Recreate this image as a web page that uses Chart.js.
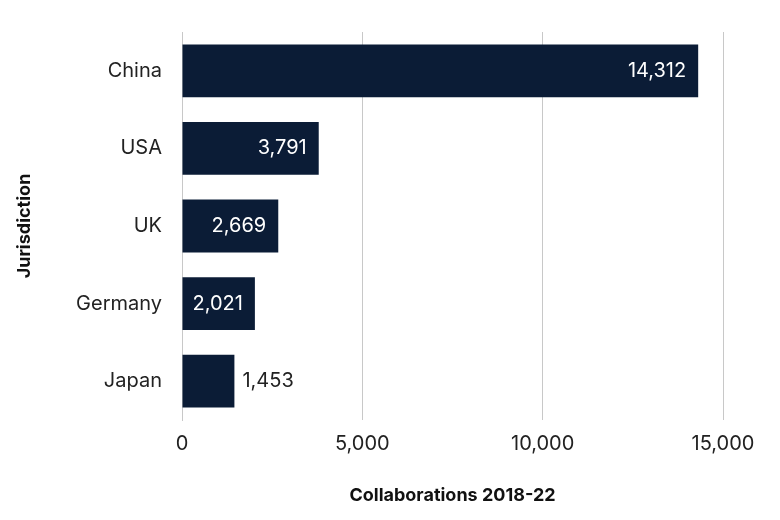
<!DOCTYPE html>
<html>
<head>
<meta charset="utf-8">
<script src="https://cdn.jsdelivr.net/npm/chart.js@4"></script>
<style>
  body { margin: 0; background: #fff; }
  #wrap { width: 780px; height: 520px; }
</style>
</head>
<body>
<div id="wrap"><canvas id="chart"></canvas></div>
<script>
const countries = ["China", "USA", "UK", "Germany", "Japan"];
const collaborations = [14312, 3791, 2669, 2021, 1453];
const xTicks = [0, 5000, 10000, 15000];

const barColor = "#0b1c36";

// value labels: inside bar end if it fits, otherwise just outside
const valueLabels = {
  id: "valueLabels",
  afterDatasetsDraw(chart) {
    const ctx = chart.ctx;
    const meta = chart.getDatasetMeta(0);
    ctx.save();
    ctx.font = "20px Inter, 'Open Sans', sans-serif";
    ctx.textBaseline = "middle";
    meta.data.forEach((bar, i) => {
      const text = collaborations[i].toLocaleString("en-US");
      const w = ctx.measureText(text).width;
      const barW = bar.x - bar.base;
      if (barW > w + 20) {
        ctx.fillStyle = "#ffffff";
        ctx.textAlign = "right";
        ctx.fillText(text, bar.x - 12, bar.y);
      } else {
        ctx.fillStyle = "#222222";
        ctx.textAlign = "left";
        ctx.fillText(text, bar.x + 8, bar.y);
      }
    });
    ctx.restore();
  }
};

new Chart(document.getElementById("chart"), {
  type: "bar",
  data: {
    labels: countries,
    datasets: [{
      data: collaborations,
      backgroundColor: barColor,
      barPercentage: 0.85,
      categoryPercentage: 0.8
    }]
  },
  options: {
    indexAxis: "y",
    responsive: true,
    maintainAspectRatio: false,
    animation: false,
    layout: { padding: { top: 30, right: 57, left: 10, bottom: 10 } },
    plugins: { legend: { display: false }, tooltip: { enabled: false } },
    scales: {
      x: {
        min: 0,
        max: 15000,
        afterBuildTicks: (axis) => { axis.ticks = xTicks.map((v) => ({ value: v })); },
        afterFit: (axis) => { axis.height = 90; },
        grid: { color: "#c8c8c8", drawTicks: false, lineWidth: 1 },
        border: { display: false },
        ticks: {
          padding: 12,
          color: "#222",
          font: { size: 20, family: "Inter, 'Open Sans', sans-serif" },
          callback: (v) => Number(v).toLocaleString("en-US")
        },
        title: {
          display: true,
          text: "Collaborations 2018-22",
          color: "#111",
          padding: { top: 18 },
          font: { size: 18, weight: "bold", family: "Inter, 'Open Sans', sans-serif" }
        }
      },
      y: {
        afterFit: (axis) => { axis.width = 172; },
        grid: { display: false, drawTicks: false },
        border: { display: true, color: "#c8c8c8" },
        ticks: {
          padding: 20,
          color: "#222",
          font: { size: 20, family: "Inter, 'Open Sans', sans-serif" }
        },
        title: {
          display: true,
          text: "Jurisdiction",
          color: "#111",
          padding: { bottom: 30 },
          font: { size: 18, weight: "bold", family: "Inter, 'Open Sans', sans-serif" }
        }
      }
    }
  },
  plugins: [valueLabels]
});
</script>
</body>
</html>
